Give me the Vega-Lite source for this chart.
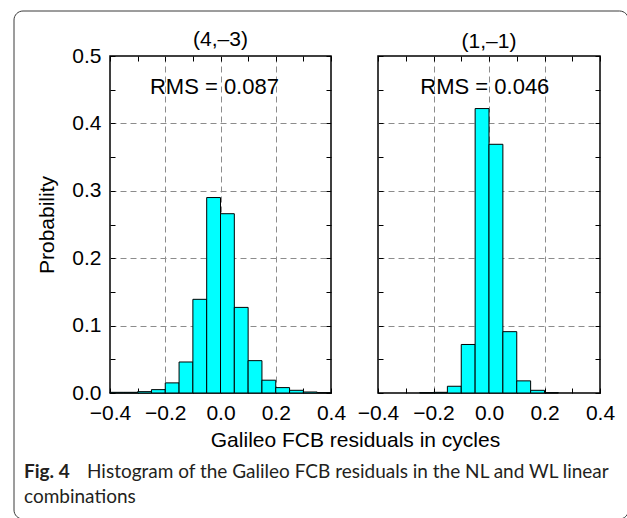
{
  "$schema": "https://vega.github.io/schema/vega-lite/v6.json",
  "padding": {"left": 12, "top": 9, "right": 0, "bottom": 0},
  "background": "white",
  "config": {
    "view": {"stroke": "black", "strokeWidth": 1.5},
    "font": "Liberation Sans",
    "axis": {
      "labelFont": "Liberation Sans", "labelFontSize": 21, "labelColor": "black",
      "titleFont": "Liberation Sans", "titleFontSize": 21, "titleFontWeight": "normal", "titleColor": "black",
      "domain": false, "tickColor": "black", "tickWidth": 1,
      "gridColor": "#8c8c8c", "gridDash": [6, 4], "gridWidth": 1,
      "labelFlush": false, "labelOverlap": false
    },
    "title": {"font": "Liberation Sans", "fontSize": 21, "fontWeight": "normal", "color": "black"}
  },
  "datasets": {
    "hist": [
      {"panel": "L", "start": -0.4, "end": -0.35, "prob": 0.001},
      {"panel": "L", "start": -0.35, "end": -0.3, "prob": 0.001},
      {"panel": "L", "start": -0.3, "end": -0.25, "prob": 0.002},
      {"panel": "L", "start": -0.25, "end": -0.2, "prob": 0.005},
      {"panel": "L", "start": -0.2, "end": -0.15, "prob": 0.015},
      {"panel": "L", "start": -0.15, "end": -0.1, "prob": 0.046},
      {"panel": "L", "start": -0.1, "end": -0.05, "prob": 0.139},
      {"panel": "L", "start": -0.05, "end": 0.0, "prob": 0.290},
      {"panel": "L", "start": 0.0, "end": 0.05, "prob": 0.266},
      {"panel": "L", "start": 0.05, "end": 0.1, "prob": 0.127},
      {"panel": "L", "start": 0.1, "end": 0.15, "prob": 0.048},
      {"panel": "L", "start": 0.15, "end": 0.2, "prob": 0.019},
      {"panel": "L", "start": 0.2, "end": 0.25, "prob": 0.008},
      {"panel": "L", "start": 0.25, "end": 0.3, "prob": 0.004},
      {"panel": "L", "start": 0.3, "end": 0.35, "prob": 0.0015},
      {"panel": "L", "start": 0.35, "end": 0.4, "prob": 0.0005},
      {"panel": "R", "start": -0.25, "end": -0.2, "prob": 0.0005},
      {"panel": "R", "start": -0.2, "end": -0.15, "prob": 0.001},
      {"panel": "R", "start": -0.15, "end": -0.1, "prob": 0.010},
      {"panel": "R", "start": -0.1, "end": -0.05, "prob": 0.072},
      {"panel": "R", "start": -0.05, "end": 0.0, "prob": 0.422},
      {"panel": "R", "start": 0.0, "end": 0.05, "prob": 0.369},
      {"panel": "R", "start": 0.05, "end": 0.1, "prob": 0.091},
      {"panel": "R", "start": 0.1, "end": 0.15, "prob": 0.018},
      {"panel": "R", "start": 0.15, "end": 0.2, "prob": 0.004},
      {"panel": "R", "start": 0.2, "end": 0.25, "prob": 0.0005}
    ],
    "rms": [
      {"panel": "L", "label": "RMS = 0.087"},
      {"panel": "R", "label": "RMS = 0.046"}
    ],
    "caption": [
      {"line": "1", "part": "fig", "text": "Fig. 4"},
      {"line": "1", "part": "body", "text": "Histogram of the Galileo FCB residuals in the NL and WL linear"},
      {"line": "2", "part": "body", "text": "combinations"}
    ],
    "frame": [{"name": "frame"}]
  },
  "hconcat": [
    {
      "width": 221, "height": 337,
      "title": {"text": "(4,–3)", "offset": 6, "dy": 45.5},
      "layer": [
        {
          "data": {"name": "frame"},
          "mark": {"type": "rect", "fill": null, "filled": false, "stroke": "#3a3a3a", "strokeWidth": 1, "cornerRadius": 9,
            "xOffset": -96, "x2Offset": 297.5, "yOffset": -45, "y2Offset": 126},
          "encoding": {
            "x": {"datum": -0.4, "type": "quantitative", "axis": null},
            "x2": {"datum": 0.4},
            "y": {"datum": 0.5, "type": "quantitative", "axis": null},
            "y2": {"datum": 0}
          }
        },
        {
          "data": {"name": "hist"},
          "transform": [{"filter": "datum.panel === 'L'"}],
          "mark": {"type": "bar", "fill": "#00ffff", "stroke": "black", "strokeWidth": 1},
          "encoding": {
            "x": {"field": "start", "type": "quantitative",
              "scale": {"domain": [-0.4, 0.4], "nice": false, "zero": false},
              "axis": {"orient": "bottom", "values": [-0.4, -0.3, -0.2, -0.1, 0, 0.1, 0.2, 0.3, 0.4], "format": ".1f",
                "labelExpr": "abs(round(datum.value*10)) % 2 == 0 ? datum.label : ''",
                "tickSize": -5, "labelPadding": 14, "grid": true,
                "gridOpacity": {"condition": {"test": "abs(round(datum.value*10)) % 2 == 0 && abs(datum.value) < 0.35", "value": 1}, "value": 0},
                "title": "Galileo FCB residuals in cycles",
                "titleX": 245, "titleY": 36, "titleAlign": "center", "titleBaseline": "top"}},
            "x2": {"field": "end"},
            "y": {"field": "prob", "type": "quantitative",
              "scale": {"domain": [0, 0.5], "nice": false},
              "axis": {"orient": "left", "values": [0, 0.05, 0.1, 0.15, 0.2, 0.25, 0.3, 0.35, 0.4, 0.45, 0.5], "format": ".1f",
                "labelExpr": "round(datum.value*20) % 2 == 0 ? datum.label : ''",
                "tickSize": -5, "labelPadding": 14, "grid": true,
                "gridOpacity": {"condition": {"test": "round(datum.value*20) % 2 == 0 && datum.value > 0.01 && datum.value < 0.49", "value": 1}, "value": 0},
                "title": "Probability", "titlePadding": 14}},
            "y2": {"datum": 0}
          }
        },
        {
          "data": {"name": "rms"},
          "transform": [{"filter": "datum.panel === 'L'"}],
          "mark": {"type": "text", "fontSize": 22, "align": "center", "baseline": "middle", "color": "black"},
          "encoding": {
            "text": {"field": "label"},
            "x": {"datum": -0.022, "type": "quantitative",
              "axis": {"orient": "top", "values": [-0.4, -0.3, -0.2, -0.1, 0, 0.1, 0.2, 0.3, 0.4], "labels": false, "tickSize": -5, "grid": false, "title": null}},
            "y": {"datum": 0.454, "type": "quantitative",
              "axis": {"orient": "right", "values": [0, 0.05, 0.1, 0.15, 0.2, 0.25, 0.3, 0.35, 0.4, 0.45, 0.5], "labels": false, "tickSize": -5, "grid": false, "title": null}}
          }
        },
        {
          "data": {"name": "caption"},
          "transform": [{"filter": "datum.part === 'fig'"}],
          "mark": {"type": "text", "font": "Lato", "fontSize": 19, "fontWeight": "bold", "align": "left", "baseline": "alphabetic", "dx": -86, "dy": 85, "color": "#231f20"},
          "encoding": {
            "text": {"field": "text"},
            "x": {"datum": -0.4, "type": "quantitative", "axis": null},
            "y": {"datum": 0, "type": "quantitative", "axis": null}
          }
        },
        {
          "data": {"name": "caption"},
          "transform": [{"filter": "datum.part === 'body' && datum.line === '1'"}],
          "mark": {"type": "text", "font": "Lato", "fontSize": 19, "align": "left", "baseline": "alphabetic", "dx": -23, "dy": 85, "color": "#231f20"},
          "encoding": {
            "text": {"field": "text"},
            "x": {"datum": -0.4, "type": "quantitative", "axis": null},
            "y": {"datum": 0, "type": "quantitative", "axis": null}
          }
        },
        {
          "data": {"name": "caption"},
          "transform": [{"filter": "datum.part === 'body' && datum.line === '2'"}],
          "mark": {"type": "text", "font": "Lato", "fontSize": 19, "align": "left", "baseline": "alphabetic", "dx": -86, "dy": 110, "color": "#231f20"},
          "encoding": {
            "text": {"field": "text"},
            "x": {"datum": -0.4, "type": "quantitative", "axis": null},
            "y": {"datum": 0, "type": "quantitative", "axis": null}
          }
        }
      ],
      "resolve": {"axis": {"x": "independent", "y": "independent"}}
    },
    {
      "width": 222, "height": 337,
      "title": {"text": "(1,–1)", "offset": 6, "dy": 2},
      "layer": [
        {
          "data": {"name": "hist"},
          "transform": [{"filter": "datum.panel === 'R'"}],
          "mark": {"type": "bar", "fill": "#00ffff", "stroke": "black", "strokeWidth": 1},
          "encoding": {
            "x": {"field": "start", "type": "quantitative",
              "scale": {"domain": [-0.4, 0.4], "nice": false, "zero": false},
              "axis": {"orient": "bottom", "values": [-0.4, -0.3, -0.2, -0.1, 0, 0.1, 0.2, 0.3, 0.4], "format": ".1f",
                "labelExpr": "abs(round(datum.value*10)) % 2 == 0 ? datum.label : ''",
                "tickSize": -5, "labelPadding": 14, "grid": true,
                "gridOpacity": {"condition": {"test": "abs(round(datum.value*10)) % 2 == 0 && abs(datum.value) < 0.35", "value": 1}, "value": 0},
                "title": null}},
            "x2": {"field": "end"},
            "y": {"field": "prob", "type": "quantitative",
              "scale": {"domain": [0, 0.5], "nice": false},
              "axis": {"orient": "left", "values": [0, 0.05, 0.1, 0.15, 0.2, 0.25, 0.3, 0.35, 0.4, 0.45, 0.5],
                "labels": false, "tickSize": -5, "grid": true,
                "gridOpacity": {"condition": {"test": "round(datum.value*20) % 2 == 0 && datum.value > 0.01 && datum.value < 0.49", "value": 1}, "value": 0},
                "title": null}},
            "y2": {"datum": 0}
          }
        },
        {
          "data": {"name": "rms"},
          "transform": [{"filter": "datum.panel === 'R'"}],
          "mark": {"type": "text", "fontSize": 22, "align": "center", "baseline": "middle", "color": "black"},
          "encoding": {
            "text": {"field": "label"},
            "x": {"datum": -0.015, "type": "quantitative",
              "axis": {"orient": "top", "values": [-0.4, -0.3, -0.2, -0.1, 0, 0.1, 0.2, 0.3, 0.4], "labels": false, "tickSize": -5, "grid": false, "title": null}},
            "y": {"datum": 0.454, "type": "quantitative",
              "axis": {"orient": "right", "values": [0, 0.05, 0.1, 0.15, 0.2, 0.25, 0.3, 0.35, 0.4, 0.45, 0.5], "labels": false, "tickSize": -5, "grid": false, "title": null}}
          }
        }
      ],
      "resolve": {"axis": {"x": "independent", "y": "independent"}}
    }
  ],
  "spacing": 47,
  "bounds": "flush"
}
